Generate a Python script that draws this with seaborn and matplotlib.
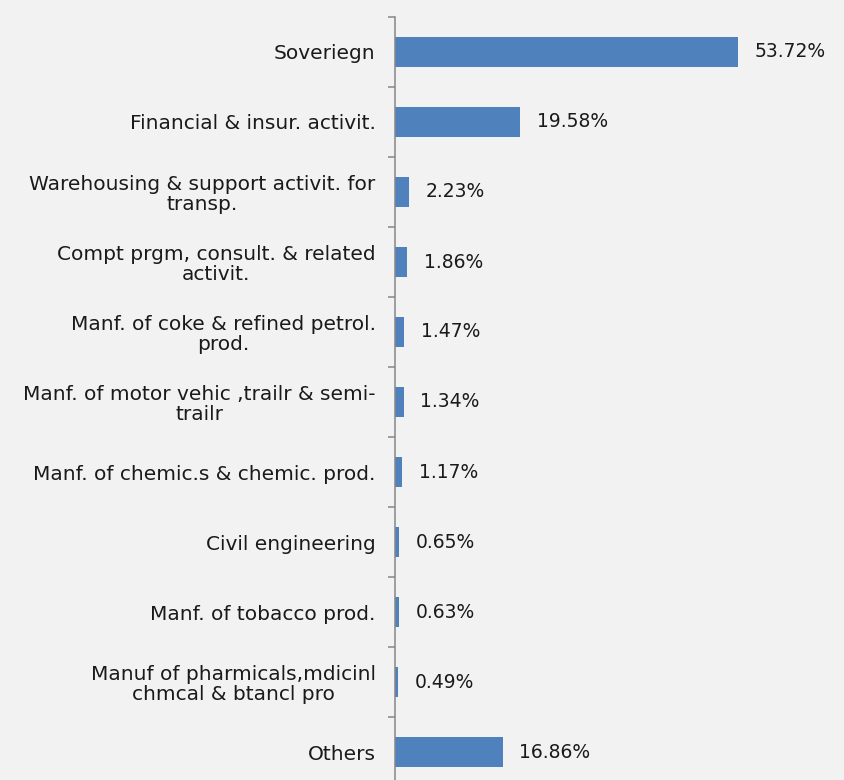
import matplotlib
matplotlib.use("Agg")
import matplotlib.pyplot as plt
import seaborn as sns
import pandas as pd

categories = [
    "Soveriegn",
    "Financial & insur. activit.",
    "Warehousing & support activit. for\ntransp.",
    "Compt prgm, consult. & related\nactivit.",
    "Manf. of coke & refined petrol.\nprod.",
    "Manf. of motor vehic ,trailr & semi-\ntrailr",
    "Manf. of chemic.s & chemic. prod.",
    "Civil engineering",
    "Manf. of tobacco prod.",
    "Manuf of pharmicals,mdicinl\nchmcal & btancl pro",
    "Others",
]
shares = [53.72, 19.58, 2.23, 1.86, 1.47, 1.34, 1.17, 0.65, 0.63, 0.49, 16.86]

df = pd.DataFrame({"sector": categories, "share": shares})

sns.set_theme(style="white")
plt.rcParams["font.family"] = ["DejaVu Sans"]

bg = "#f2f2f2"
txt = "#1a1a1a"
fig = plt.figure(figsize=(8.45, 7.80), dpi=100, facecolor=bg)
ax = fig.add_axes([395 / 845, -7 / 780, 450 / 845, 770 / 780], facecolor=bg)

sns.barplot(data=df, x="share", y="sector", orient="h", color="#4f81bd",
            saturation=1, width=0.43, linewidth=0, ax=ax)

ax.set_xlim(0, 450 / 6.385)
ax.set_ylim(len(categories) - 0.5, -0.5)
ax.set_xlabel("")
ax.set_ylabel("")
ax.set_xticks([])

for side in ("top", "right", "bottom"):
    ax.spines[side].set_visible(False)
ax.spines["left"].set_color("#868686")
ax.spines["left"].set_linewidth(1.1)

# ticks sit on the category boundaries
ax.set_yticks([i - 0.5 for i in range(len(categories) + 1)], minor=True)
ax.tick_params(axis="y", which="minor", length=5, width=1.1, color="#868686", left=True)
ax.tick_params(axis="y", which="major", length=0, pad=14, labelsize=14.5, labelcolor=txt)
for lbl in ax.get_yticklabels():
    lbl.set_multialignment("center")
    lbl.set_linespacing(1.07)

for container in ax.containers:
    ax.bar_label(container, labels=[f"{v:.2f}%" for v in shares], padding=12,
                 fontsize=13.5, color=txt)

fig.savefig("out.png", dpi=100, facecolor=bg)
